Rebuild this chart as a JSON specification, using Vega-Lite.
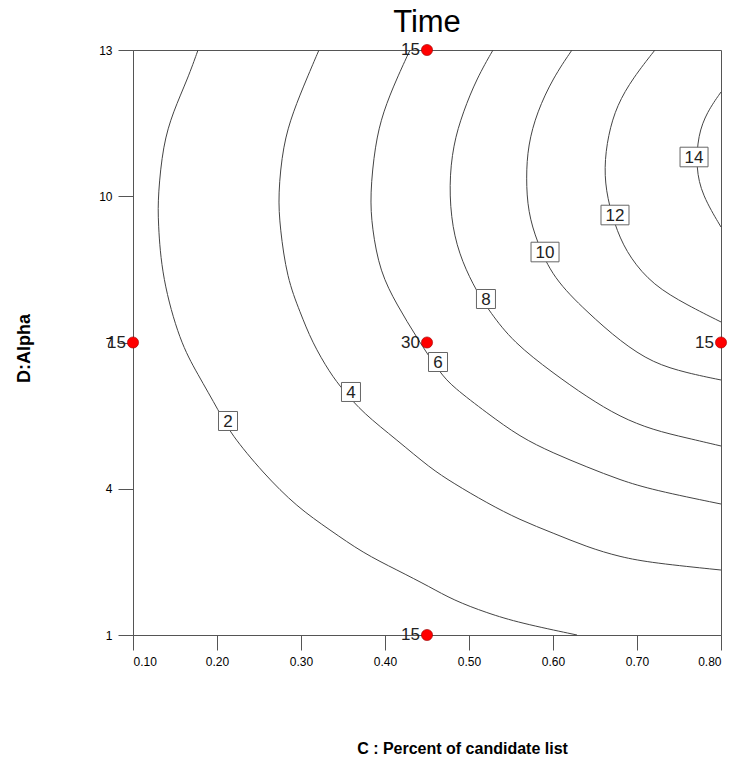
{
  "$schema": "https://vega.github.io/schema/vega-lite/v6.json",
  "autosize": "none",
  "width": 588,
  "height": 585,
  "padding": {"left": 133, "top": 50, "right": 16, "bottom": 127},
  "background": "white",
  "config": {
    "font": "Liberation Sans",
    "view": {"stroke": "#555555", "strokeWidth": 1},
    "axis": {"grid": false, "domainColor": "#555555", "tickColor": "#555555", "labelColor": "#000000", "labelFontSize": 12, "tickSize": 15, "labelPadding": 6, "titleColor": "#000000"}
  },
  "title": {"text": "Time", "fontSize": 31, "fontWeight": "normal", "color": "#000000", "anchor": "middle", "offset": 2},
  "datasets": {
    "contours": [
      {"c": 2, "i": 0, "x": 0.1774, "y": 13.0},
      {"c": 2, "i": 1, "x": 0.1655, "y": 12.426},
      {"c": 2, "i": 2, "x": 0.1476, "y": 11.728},
      {"c": 2, "i": 3, "x": 0.1357, "y": 11.051},
      {"c": 2, "i": 4, "x": 0.1298, "y": 10.026},
      {"c": 2, "i": 5, "x": 0.1298, "y": 9.472},
      {"c": 2, "i": 6, "x": 0.1345, "y": 8.323},
      {"c": 2, "i": 7, "x": 0.156, "y": 7.01},
      {"c": 2, "i": 8, "x": 0.1762, "y": 6.374},
      {"c": 2, "i": 9, "x": 0.2036, "y": 5.554},
      {"c": 2, "i": 10, "x": 0.2155, "y": 5.144},
      {"c": 2, "i": 11, "x": 0.2548, "y": 4.323},
      {"c": 2, "i": 12, "x": 0.2952, "y": 3.626},
      {"c": 2, "i": 13, "x": 0.3345, "y": 3.154},
      {"c": 2, "i": 14, "x": 0.3738, "y": 2.682},
      {"c": 2, "i": 15, "x": 0.4143, "y": 2.333},
      {"c": 2, "i": 16, "x": 0.4536, "y": 1.985},
      {"c": 2, "i": 17, "x": 0.481, "y": 1.718},
      {"c": 2, "i": 18, "x": 0.5214, "y": 1.451},
      {"c": 2, "i": 19, "x": 0.5607, "y": 1.246},
      {"c": 2, "i": 20, "x": 0.6286, "y": 1.0},
      {"c": 4, "i": 0, "x": 0.3214, "y": 13.0},
      {"c": 4, "i": 1, "x": 0.3071, "y": 12.426},
      {"c": 4, "i": 2, "x": 0.2905, "y": 11.728},
      {"c": 4, "i": 3, "x": 0.2786, "y": 11.051},
      {"c": 4, "i": 4, "x": 0.2726, "y": 10.026},
      {"c": 4, "i": 5, "x": 0.275, "y": 9.349},
      {"c": 4, "i": 6, "x": 0.2833, "y": 8.323},
      {"c": 4, "i": 7, "x": 0.2988, "y": 7.626},
      {"c": 4, "i": 8, "x": 0.3131, "y": 7.01},
      {"c": 4, "i": 9, "x": 0.3345, "y": 6.374},
      {"c": 4, "i": 10, "x": 0.35, "y": 6.026},
      {"c": 4, "i": 11, "x": 0.3738, "y": 5.554},
      {"c": 4, "i": 12, "x": 0.4143, "y": 5.0},
      {"c": 4, "i": 13, "x": 0.4536, "y": 4.426},
      {"c": 4, "i": 14, "x": 0.481, "y": 4.118},
      {"c": 4, "i": 15, "x": 0.5214, "y": 3.708},
      {"c": 4, "i": 16, "x": 0.5607, "y": 3.359},
      {"c": 4, "i": 17, "x": 0.6, "y": 3.092},
      {"c": 4, "i": 18, "x": 0.6405, "y": 2.805},
      {"c": 4, "i": 19, "x": 0.6798, "y": 2.6},
      {"c": 4, "i": 20, "x": 0.719, "y": 2.477},
      {"c": 4, "i": 21, "x": 0.8, "y": 2.333},
      {"c": 6, "i": 0, "x": 0.4298, "y": 13.0},
      {"c": 6, "i": 1, "x": 0.4143, "y": 12.426},
      {"c": 6, "i": 2, "x": 0.3976, "y": 11.728},
      {"c": 6, "i": 3, "x": 0.3881, "y": 11.051},
      {"c": 6, "i": 4, "x": 0.3821, "y": 10.026},
      {"c": 6, "i": 5, "x": 0.3845, "y": 9.349},
      {"c": 6, "i": 6, "x": 0.394, "y": 8.446},
      {"c": 6, "i": 7, "x": 0.4143, "y": 7.769},
      {"c": 6, "i": 8, "x": 0.4381, "y": 7.092},
      {"c": 6, "i": 9, "x": 0.4655, "y": 6.374},
      {"c": 6, "i": 10, "x": 0.481, "y": 6.087},
      {"c": 6, "i": 11, "x": 0.5214, "y": 5.554},
      {"c": 6, "i": 12, "x": 0.5607, "y": 5.062},
      {"c": 6, "i": 13, "x": 0.6, "y": 4.733},
      {"c": 6, "i": 14, "x": 0.6405, "y": 4.446},
      {"c": 6, "i": 15, "x": 0.6798, "y": 4.179},
      {"c": 6, "i": 16, "x": 0.719, "y": 3.974},
      {"c": 6, "i": 17, "x": 0.8, "y": 3.687},
      {"c": 8, "i": 0, "x": 0.5286, "y": 13.0},
      {"c": 8, "i": 1, "x": 0.5095, "y": 12.426},
      {"c": 8, "i": 2, "x": 0.4929, "y": 11.728},
      {"c": 8, "i": 3, "x": 0.481, "y": 11.051},
      {"c": 8, "i": 4, "x": 0.4762, "y": 10.231},
      {"c": 8, "i": 5, "x": 0.4798, "y": 9.349},
      {"c": 8, "i": 6, "x": 0.4917, "y": 8.651},
      {"c": 8, "i": 7, "x": 0.5095, "y": 8.036},
      {"c": 8, "i": 8, "x": 0.525, "y": 7.626},
      {"c": 8, "i": 9, "x": 0.5524, "y": 7.01},
      {"c": 8, "i": 10, "x": 0.6, "y": 6.374},
      {"c": 8, "i": 11, "x": 0.6405, "y": 5.882},
      {"c": 8, "i": 12, "x": 0.6798, "y": 5.472},
      {"c": 8, "i": 13, "x": 0.719, "y": 5.205},
      {"c": 8, "i": 14, "x": 0.7595, "y": 5.041},
      {"c": 8, "i": 15, "x": 0.8, "y": 4.877},
      {"c": 10, "i": 0, "x": 0.6226, "y": 13.0},
      {"c": 10, "i": 1, "x": 0.6, "y": 12.426},
      {"c": 10, "i": 2, "x": 0.581, "y": 11.728},
      {"c": 10, "i": 3, "x": 0.5702, "y": 11.051},
      {"c": 10, "i": 4, "x": 0.5679, "y": 10.374},
      {"c": 10, "i": 5, "x": 0.5702, "y": 9.677},
      {"c": 10, "i": 6, "x": 0.581, "y": 9.062},
      {"c": 10, "i": 7, "x": 0.6, "y": 8.323},
      {"c": 10, "i": 8, "x": 0.6405, "y": 7.626},
      {"c": 10, "i": 9, "x": 0.681, "y": 7.01},
      {"c": 10, "i": 10, "x": 0.719, "y": 6.579},
      {"c": 10, "i": 11, "x": 0.7595, "y": 6.374},
      {"c": 10, "i": 12, "x": 0.8, "y": 6.231},
      {"c": 12, "i": 0, "x": 0.7214, "y": 13.0},
      {"c": 12, "i": 1, "x": 0.6952, "y": 12.426},
      {"c": 12, "i": 2, "x": 0.6762, "y": 11.872},
      {"c": 12, "i": 3, "x": 0.6655, "y": 11.256},
      {"c": 12, "i": 4, "x": 0.6607, "y": 10.579},
      {"c": 12, "i": 5, "x": 0.6643, "y": 9.964},
      {"c": 12, "i": 6, "x": 0.6762, "y": 9.267},
      {"c": 12, "i": 7, "x": 0.6917, "y": 8.733},
      {"c": 12, "i": 8, "x": 0.719, "y": 8.179},
      {"c": 12, "i": 9, "x": 0.7595, "y": 7.769},
      {"c": 12, "i": 10, "x": 0.8, "y": 7.421},
      {"c": 14, "i": 0, "x": 0.8, "y": 12.138},
      {"c": 14, "i": 1, "x": 0.7833, "y": 11.728},
      {"c": 14, "i": 2, "x": 0.7726, "y": 11.256},
      {"c": 14, "i": 3, "x": 0.7702, "y": 10.579},
      {"c": 14, "i": 4, "x": 0.7774, "y": 10.026},
      {"c": 14, "i": 5, "x": 0.8, "y": 9.369}
    ],
    "labels": [
      {"c": 2, "x": 0.2131, "y": 5.39},
      {"c": 4, "x": 0.3595, "y": 5.985},
      {"c": 6, "x": 0.4631, "y": 6.6},
      {"c": 8, "x": 0.5202, "y": 7.892},
      {"c": 10, "x": 0.5905, "y": 8.856},
      {"c": 12, "x": 0.6738, "y": 9.615},
      {"c": 14, "x": 0.7679, "y": 10.805}
    ],
    "design": [
      {"x": 0.1, "y": 7, "n": 15},
      {"x": 0.45, "y": 13, "n": 15},
      {"x": 0.45, "y": 7, "n": 30},
      {"x": 0.8, "y": 7, "n": 15},
      {"x": 0.45, "y": 1, "n": 15}
    ]
  },
  "layer": [
    {
      "data": {"name": "contours"},
      "mark": {"type": "line", "color": "#444444", "strokeWidth": 1, "interpolate": "basis"},
      "encoding": {
        "x": {"field": "x", "type": "quantitative", "scale": {"domain": [0.1, 0.8], "nice": false, "zero": false},
              "axis": {"values": [0.1, 0.2, 0.3, 0.4, 0.5, 0.6, 0.7, 0.8], "format": ".2f",
                       "title": "C : Percent of candidate list", "titleFontSize": 16, "titleFontWeight": "bold",
                       "titleX": 329, "titleY": 113, "titleBaseline": "middle", "titleAlign": "center"}},
        "y": {"field": "y", "type": "quantitative", "scale": {"domain": [1, 13], "nice": false, "zero": false},
              "axis": {"values": [1, 4, 7, 10, 13], "title": "D:Alpha", "titleFontSize": 18, "titleFontWeight": "bold",
                       "titleAngle": -90, "titleX": -109, "titleY": 298, "titleBaseline": "middle", "titleAlign": "center"}},
        "detail": {"field": "c", "type": "nominal"},
        "order": {"field": "i", "type": "quantitative"}
      }
    },
    {
      "data": {"name": "labels"},
      "transform": [{"filter": "datum.c < 10"}],
      "mark": {"type": "point", "shape": "square", "filled": true, "fill": "white", "stroke": "#666666", "strokeWidth": 1, "size": 361, "opacity": 1},
      "encoding": {
        "x": {"field": "x", "type": "quantitative"},
        "y": {"field": "y", "type": "quantitative"}
      }
    },
    {
      "data": {"name": "labels"},
      "transform": [{"filter": "datum.c >= 10"}],
      "mark": {"type": "point", "shape": "M-1,-0.7L1,-0.7L1,0.7L-1,0.7Z", "filled": true, "fill": "white", "stroke": "#666666", "strokeWidth": 1, "size": 784, "opacity": 1},
      "encoding": {
        "x": {"field": "x", "type": "quantitative"},
        "y": {"field": "y", "type": "quantitative"}
      }
    },
    {
      "data": {"name": "labels"},
      "mark": {"type": "text", "fontSize": 17, "color": "#222222", "baseline": "middle", "align": "center", "dy": 1},
      "encoding": {
        "x": {"field": "x", "type": "quantitative"},
        "y": {"field": "y", "type": "quantitative"},
        "text": {"field": "c", "type": "nominal"}
      }
    },
    {
      "data": {"name": "design"},
      "mark": {"type": "point", "shape": "circle", "filled": true, "fill": "#ff0000", "stroke": "#990000", "strokeWidth": 0.6, "size": 125, "opacity": 1},
      "encoding": {
        "x": {"field": "x", "type": "quantitative"},
        "y": {"field": "y", "type": "quantitative"}
      }
    },
    {
      "data": {"name": "design"},
      "mark": {"type": "text", "fontSize": 17, "color": "#222222", "baseline": "middle", "align": "right", "dx": -7},
      "encoding": {
        "x": {"field": "x", "type": "quantitative"},
        "y": {"field": "y", "type": "quantitative"},
        "text": {"field": "n", "type": "nominal"}
      }
    }
  ]
}
